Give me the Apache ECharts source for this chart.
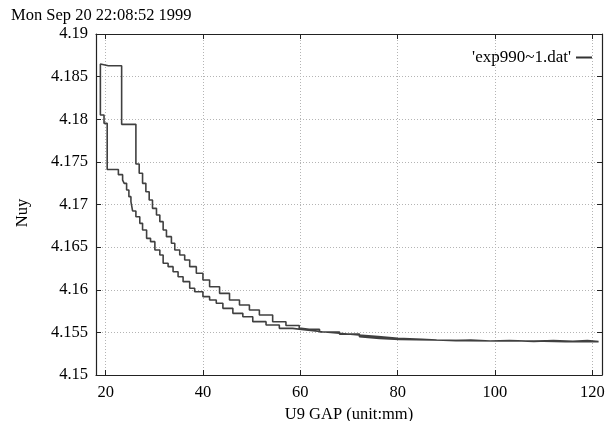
<!DOCTYPE html>
<html>
<head>
<meta charset="utf-8">
<script src="https://cdn.jsdelivr.net/npm/echarts@6/dist/echarts.min.js"></script>
<style>
html,body{margin:0;padding:0;background:#fff;}
#c{width:613px;height:421px;}
</style>
</head>
<body>
<div id="c"></div>
<script>
// ---- data ----
var seriesName = "'exp990~1.dat'";
var timestamp = 'Mon Sep 20 22:08:52 1999';
var xTitle = 'U9 GAP (unit:mm)';
var yTitle = 'Nuy';
var xTicks = [20, 40, 60, 80, 100, 120];
var yTicks = [4.15, 4.155, 4.16, 4.165, 4.17, 4.175, 4.18, 4.185, 4.19];

// upper branch (ascending gap), drawn from large gap to small gap
var upperGap = [18.9, 20.54, 23.27, 26.2, 26.88, 27.57, 28.25, 28.93, 29.61, 30.43,
  31.12, 31.8, 32.48, 33.5, 34.19, 35.21, 36.23, 37.26, 38.62, 39.98,
  41.35, 43.4, 45.44, 47.49, 49.53, 51.58, 54.31, 57.04, 59.77, 61.82,
  63.95, 68.05, 72.15, 76.26, 80.36, 87.2, 94.04, 100.87, 107.7, 114.54, 121.3];
var upperNuy = [4.18648, 4.18648, 4.18628, 4.1794, 4.17475, 4.17366, 4.17248, 4.1715, 4.17053, 4.16955,
  4.16877, 4.16799, 4.16701, 4.16623, 4.16545, 4.16466, 4.16408, 4.16349, 4.16271, 4.16193,
  4.16114, 4.16036, 4.15958, 4.1588, 4.15821, 4.15762, 4.15704, 4.15625, 4.1558, 4.1555,
  4.15535, 4.15505, 4.1548, 4.1545, 4.1543, 4.15418, 4.15411, 4.15403, 4.15399, 4.15399, 4.15391];

// lower branch (ascending gap), drawn from small gap to large gap
var lowerGap = [18.9, 19.65, 20.3, 22.6, 23.47, 23.8, 24.29, 24.76, 25.18, 25.52,
  26.2, 27.0, 27.57, 28.4, 29.21, 30.1, 31.12, 31.8, 32.82, 33.84,
  34.87, 35.9, 37.26, 38.28, 39.98, 41.35, 42.72, 44.08, 46.13, 48.18,
  50.22, 52.95, 55.68, 58.41, 61.14, 64.5, 68, 72, 76, 80,
  85, 88, 92, 95, 99, 103, 108, 112, 116, 119, 121.3];
var lowerNuy = [4.1805, 4.17952, 4.1741, 4.1735, 4.17287, 4.17248, 4.1717, 4.17092, 4.17033, 4.16924,
  4.16857, 4.16779, 4.16701, 4.16603, 4.16564, 4.16466, 4.16408, 4.1631, 4.16271, 4.16212,
  4.16153, 4.16095, 4.16017, 4.15977, 4.15919, 4.1588, 4.15841, 4.15782, 4.15723, 4.15684,
  4.15626, 4.15587, 4.15547, 4.15528, 4.15508, 4.1549, 4.1547, 4.1545, 4.1543, 4.1542,
  4.1541, 4.15403, 4.1541, 4.15399, 4.15405, 4.15395, 4.15403, 4.15395, 4.15403, 4.15391, 4.15391];

// ---- build ----
var pts = [];
for (var i = upperGap.length - 1; i >= 0; i--) pts.push([upperGap[i], upperNuy[i]]);
for (var j = 0; j < lowerGap.length; j++) pts.push([lowerGap[j], lowerNuy[j]]);

var FONT = '"Liberation Serif", "DejaVu Serif", serif';
var FS = 16.5;
var fmtY = function (v) { return String(parseFloat(Number(v).toFixed(3))); };

var chart = echarts.init(document.getElementById('c'), null, {renderer: 'canvas'});
var xMin = 18, xMax = 122, yMin = 4.15, yMax = 4.19;

var gridLine = {show: true, lineStyle: {color: '#b4b4b4', type: [1, 2], width: 1}};
var axisLineStyle = {show: true, lineStyle: {color: '#222', width: 1.2}};

chart.setOption({
  animation: false,
  backgroundColor: '#fff',
  textStyle: {fontFamily: FONT},
  grid: {left: 96, right: 11, top: 34, bottom: 46, containLabel: false, outerBoundsMode: 'none'},
  graphic: [{
    type: 'text', left: 11, top: 7,
    style: {text: timestamp, font: FS + 'px ' + FONT, fill: '#000'}
  }, {
    type: 'text', x: 23, y: 213, rotation: Math.PI / 2,
    style: {text: yTitle, font: FS + 'px ' + FONT, fill: '#000', align: 'center', verticalAlign: 'middle'}
  }],
  legend: {
    show: true, right: 16, top: 44, align: 'right',
    itemWidth: 16, itemHeight: 2, itemGap: 0,
    icon: 'rect',
    textStyle: {fontFamily: FONT, fontSize: 17, color: '#000', padding: [0, 0, 0, 0]},
    data: [{name: seriesName, itemStyle: {color: '#333'}}]
  },
  xAxis: [{
    type: 'value', min: xMin, max: xMax, position: 'bottom',
    name: xTitle, nameLocation: 'middle', nameGap: 27,
    nameTextStyle: {fontFamily: FONT, fontSize: FS, color: '#000'},
    axisLine: axisLineStyle,
    axisTick: {show: true, inside: true, length: 5, customValues: xTicks, lineStyle: {color: '#222'}},
    axisLabel: {show: true, customValues: xTicks, margin: 9, fontFamily: FONT, fontSize: FS, color: '#000'},
    splitLine: gridLine
  }, {
    type: 'value', min: xMin, max: xMax, position: 'top',
    axisLine: axisLineStyle,
    axisTick: {show: true, inside: true, length: 5, customValues: xTicks, lineStyle: {color: '#222'}},
    axisLabel: {show: false, customValues: xTicks},
    splitLine: {show: false}
  }],
  yAxis: [{
    type: 'value', min: yMin, max: yMax, interval: 0.005, position: 'left',
    axisLine: axisLineStyle,
    axisTick: {show: true, inside: true, length: 5, customValues: yTicks, lineStyle: {color: '#222'}},
    axisLabel: {show: true, customValues: yTicks, margin: 8, fontFamily: FONT, fontSize: FS, color: '#000', formatter: fmtY},
    splitLine: gridLine
  }, {
    type: 'value', min: yMin, max: yMax, interval: 0.005, position: 'right',
    axisLine: axisLineStyle,
    axisTick: {show: true, inside: true, length: 5, customValues: yTicks, lineStyle: {color: '#222'}},
    axisLabel: {show: false},
    splitLine: {show: false}
  }],
  series: [{
    name: seriesName,
    type: 'line',
    xAxisIndex: 0, yAxisIndex: 0,
    step: 'end',
    showSymbol: false,
    symbol: 'none',
    lineStyle: {color: '#404040', width: 1.6},
    itemStyle: {color: '#333'},
    data: pts
  }]
});
</script>
</body>
</html>
